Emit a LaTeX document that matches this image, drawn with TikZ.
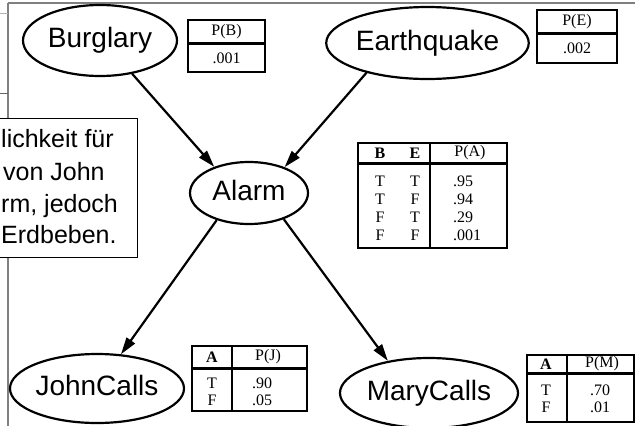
\documentclass[tikz,border=0pt]{standalone}
\usepackage{fontspec}
\setmainfont{Liberation Serif}
\newfontfamily\labelfont{Liberation Sans}
\usetikzlibrary{shapes.geometric,arrows.meta}

\begin{document}
\begin{tikzpicture}[x=1pt,y=-1pt,
  var/.style={ellipse, draw, line width=2.2pt, inner sep=0pt,
    text height=20pt, text depth=6pt,
    font=\labelfont\fontsize{28}{30}\selectfont},
  link/.style={line width=2.2pt, -{Triangle[length=17pt,width=10pt]}},
  cptline/.style={line width=2.2pt},
  cpthead/.style={line width=3pt},
  cell/.style={inner sep=0pt, font=\fontsize{16}{18}\selectfont},
  valcell/.style={cell, anchor=west},
  notetext/.style={inner sep=0pt, anchor=base west,
    font=\labelfont\fontsize{25}{30}\selectfont},
  winedge/.style={draw=black!50, line width=1.5pt}
]
\useasboundingbox (0,0) rectangle (635,426);
\clip (0,0) rectangle (635,426);
\fill[white] (0,0) rectangle (635,426);

% edges of the window behind
\draw[winedge] (8,3) -- (635,3);
\draw[winedge] (8,3) -- (8,426);
\draw[black!30, line width=1pt] (0,13) -- (8,13);
\draw[black!60, line width=1pt] (0,93) -- (8,93);

% explanatory note box
\draw[fill=white, line width=1pt] (-5,118) rectangle (137,257);
\node[notetext] (n1) at (1,147) {lichkeit für};
\node[notetext] (n2) at (3,180) {von John};
\node[notetext] (n3) at (1,212) {rm, jedoch};
\node[notetext] (n4) at (1,243) {Erdbeben.};

% network variables
\node[var, minimum width=154pt, minimum height=71pt] (b)  at (100,40.5) {Burglary};
\node[var, minimum width=195pt, minimum height=72pt] (eq) at (427.5,43) {Earthquake};
\node[var, minimum width=118pt, minimum height=62pt] (al) at (249,193) {Alarm};
\node[var, minimum width=174pt, minimum height=69pt] (jc) at (97,388.5) {JohnCalls};
\node[var, minimum width=178pt, minimum height=70pt] (mc) at (429,393) {MaryCalls};

% dependencies
\draw[link] (b.-46)   -- (al.143);
\draw[link] (eq.-154) -- (al.36);
\draw[link] (al.-140) -- (jc.55);
\draw[link] (al.-37)  -- (mc.142);

% P(B)
\draw[cptline] (188,20) rectangle (265,72);
\draw[cpthead] (188,43) -- (265,43);
\node[cell] (pbh) at (226.5,32) {P(B)};
\node[cell] (pbv) at (226.5,58) {.001};

% P(E)
\draw[cptline] (537,10) rectangle (617,63);
\draw[cpthead] (537,33) -- (617,33);
\node[cell] (peh) at (577,21.5) {P(E)};
\node[cell] (pev) at (577,48) {.002};

% P(A | B, E)
\draw[cptline] (358,143) rectangle (507,248);
\draw[cpthead] (358,163) -- (507,163);
\draw[cptline] (430,143) -- (430,248);
\node[cell] (pab) at (380,153) {\textbf{B}};
\node[cell] (pae) at (415,153) {\textbf{E}};
\node[cell] (pah) at (470,153) {P(A)};
\node[cell] (pab1) at (380,181) {T};
\node[cell] (pae1) at (415,181) {T};
\node[valcell] (pav1) at (453,181) {.95};
\node[cell] (pab2) at (380,199) {T};
\node[cell] (pae2) at (415,199) {F};
\node[valcell] (pav2) at (453,199) {.94};
\node[cell] (pab3) at (380,217) {F};
\node[cell] (pae3) at (415,217) {T};
\node[valcell] (pav3) at (453,217) {.29};
\node[cell] (pab4) at (380,235) {F};
\node[cell] (pae4) at (415,235) {F};
\node[valcell] (pav4) at (453,235) {.001};

% P(J | A)
\draw[cptline] (192,346) rectangle (307,411);
\draw[cpthead] (192,368) -- (307,368);
\draw[cptline] (232,346) -- (232,411);
\node[cell] (pja) at (212,357) {\textbf{A}};
\node[cell] (pjh) at (268,357) {P(J)};
\node[cell] (pja1) at (212,383) {T};
\node[valcell] (pjv1) at (252,383) {.90};
\node[cell] (pja2) at (212,400) {F};
\node[valcell] (pjv2) at (252,400) {.05};

% P(M | A)
\draw[cptline] (527,355) rectangle (634,422);
\draw[cpthead] (527,373) -- (634,373);
\draw[cptline] (567,355) -- (567,422);
\node[cell] (pma) at (546,364) {\textbf{A}};
\node[cell] (pmh) at (602,364) {P(M)};
\node[cell] (pma1) at (546,390) {T};
\node[valcell] (pmv1) at (590,390) {.70};
\node[cell] (pma2) at (546,407) {F};
\node[valcell] (pmv2) at (590,407) {.01};
\end{tikzpicture}
\end{document}
